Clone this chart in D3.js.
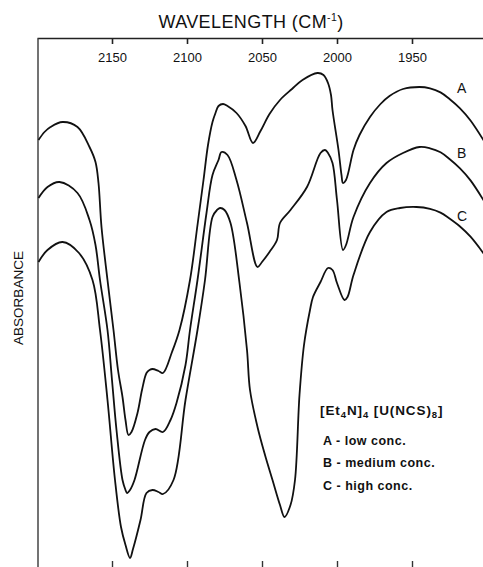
<!DOCTYPE html>
<html><head><meta charset="utf-8">
<script src="https://cdn.jsdelivr.net/npm/d3@7"></script>
<style>
html,body{margin:0;padding:0;background:#fff;}
svg{display:block;}
text{font-family:"Liberation Sans",Arial,Helvetica,sans-serif;fill:#111;}
</style></head>
<body>
<svg id="chart" width="483" height="567"></svg>
<script>
// Wavenumber (cm-1) ticks
const tickValues = [2150, 2100, 2050, 2000, 1950];
// Curves: [wavenumber, signal (arbitrary absorbance units, offset traces)]
const curveA = [[2199,427],[2195,435],[2191,440],[2183,445],[2173,440],[2165,420],[2161,405],[2159,384],[2157,340],[2153,287],[2149,237],[2146,197],[2143,170],[2141,147],[2139,132],[2137,135],[2133,154],[2130,177],[2127,194],[2125,197],[2123,198],[2119,196],[2116,194],[2110,215],[2105,237],[2098,287],[2093,342],[2089,387],[2086,422],[2083,445],[2081,454],[2079,461],[2076,463],[2073,461],[2067,454],[2061,441],[2056,424],[2051,436],[2045,453],[2038,467],[2030,478],[2023,487],[2013,494],[2009,492],[2006,484],[2004,472],[2003,457],[1999,417],[1997,392],[1996,384],[1994,387],[1989,417],[1985,432],[1978,450],[1971,463],[1965,471],[1956,478],[1945,480],[1938,478.7],[1931,474.6],[1925,468],[1918,458.6],[1911,446.5],[1902,426]];
const curveB = [[2199,369],[2193,380],[2185,385],[2173,374],[2165,347],[2161,322],[2158,287],[2153,237],[2150,187],[2147,137],[2143,87],[2141,77],[2140,74],[2138,77],[2135,87],[2128,127],[2125,135],[2121,138],[2116,135],[2111,147],[2107,164],[2101,202],[2098,237],[2093,287],[2087,354],[2083,392],[2079,407],[2077,415],[2073,412],[2067,387],[2060,344],[2053,300],[2050,305],[2045,315],[2040,327],[2038,344],[2031,357],[2020,380],[2011,414],[2008,417],[2006,414],[2003,404],[2000,367],[1996,317],[1994,322],[1989,350],[1978,384],[1967,404],[1956,414],[1945,420],[1938,418.7],[1931,414.7],[1925,408],[1918,398.6],[1911,386.6],[1902,366]];
const curveC = [[2199,305],[2193,317],[2183,325],[2172,314],[2163,287],[2158,237],[2153,167],[2148,87],[2144,40],[2141,22],[2138,9],[2136,18],[2131,47],[2127,74],[2123,77],[2119,75],[2116,73],[2109,87],[2101,167],[2093,237],[2088,287],[2083,350],[2080,357],[2078,359],[2075,357],[2071,344],[2065,284],[2060,217],[2058,177],[2053,140],[2048,112],[2043,87],[2038,62],[2035,50],[2031,62],[2028,87],[2025,172],[2022,222],[2018,257],[2016,270],[2011,285],[2006,299],[2003,297],[2000,284],[1995,267],[1993,270],[1989,292],[1978,335],[1967,355],[1958,359],[1947,360],[1938,358.2],[1931,354.4],[1925,348.5],[1918,340.5],[1911,330.3],[1902,313]];
const seriesNames = ["A", "B", "C"];
const legendTitle = ["[Et", "4", "N]", "4", " [U(NCS)", "8", "]"];
const legendItems = ["A - low conc.", "B - medium conc.", "C - high conc."];

const svg = d3.select("#chart");
const x = d3.scaleLinear().domain([2200, 1900]).range([37, 487]);
const y = d3.scaleLinear().domain([0, 529]).range([567, 38]);

// top axis
const topAxis = svg.append("g").attr("transform","translate(0,38)")
  .call(d3.axisBottom(x).tickValues(tickValues).tickSize(6).tickSizeOuter(0).tickPadding(9).tickFormat(d3.format("d")));
topAxis.select(".domain").attr("stroke","#222").attr("stroke-width",1.6);
topAxis.selectAll(".tick line").attr("stroke","#222").attr("stroke-width",1.6);
topAxis.selectAll(".tick text").attr("font-size",13).attr("font-family","Liberation Sans, Arial, sans-serif").attr("fill","#111");

// bottom ticks
const botAxis = svg.append("g").attr("transform","translate(0,567)")
  .call(d3.axisTop(x).tickValues(tickValues).tickSize(6).tickSizeOuter(0).tickFormat(""));
botAxis.select(".domain").remove();
botAxis.selectAll(".tick line").attr("stroke","#333").attr("stroke-width",1.4);

// left axis
const leftAxis = svg.append("g").attr("transform","translate(37.5,0)")
  .call(d3.axisLeft(y).tickValues([]).tickSizeOuter(0));
leftAxis.select(".domain").attr("stroke","#444").attr("stroke-width",1.5);

// title
const t = svg.append("text").attr("x",251).attr("y",28).attr("text-anchor","middle").attr("font-size",18).attr("letter-spacing",0.4);
t.append("tspan").text("WAVELENGTH (CM");
t.append("tspan").attr("font-size",10.5).attr("dy",-7).text("-1");
t.append("tspan").attr("dy",7).text(")");

svg.append("text").attr("transform","translate(23,298) rotate(-90)").attr("text-anchor","middle")
  .attr("font-size",13.5).text("ABSORBANCE");

const line = d3.line().x(d => x(d[0])).y(d => y(d[1])).curve(d3.curveCatmullRom.alpha(0.5));
[curveA, curveB, curveC].forEach(c => {
  svg.append("path").datum(c.slice().sort((a,b)=>a[0]-b[0])).attr("d", line)
    .attr("fill","none").attr("stroke","#111").attr("stroke-width",1.8).attr("stroke-linejoin","round");
});

// series labels
const labelPos = [[1920,474],[1920,409],[1920,346]];
seriesNames.forEach((n,i) => {
  svg.append("text").attr("x", x(labelPos[i][0])).attr("y", y(labelPos[i][1])).attr("font-size",14).text(n);
});

// legend
const lt = svg.append("text").attr("x",320).attr("y",415).attr("font-size",13.5).attr("font-weight","bold").attr("letter-spacing",0.9);
legendTitle.forEach((s,i) => {
  const sub = i===1 || i===3 || i===5;
  lt.append("tspan").attr("font-size", sub ? 9.5 : 13.5).attr("dy", sub ? 3 : (i>0 ? -3 : 0)).text(s);
});
const itemY = [445, 467, 490];
legendItems.forEach((s,i) => {
  svg.append("text").attr("x",323).attr("y",itemY[i]).attr("font-size",12.5).attr("font-weight","bold")
    .attr("letter-spacing",0.5).text(s);
});
</script>
</body></html>
